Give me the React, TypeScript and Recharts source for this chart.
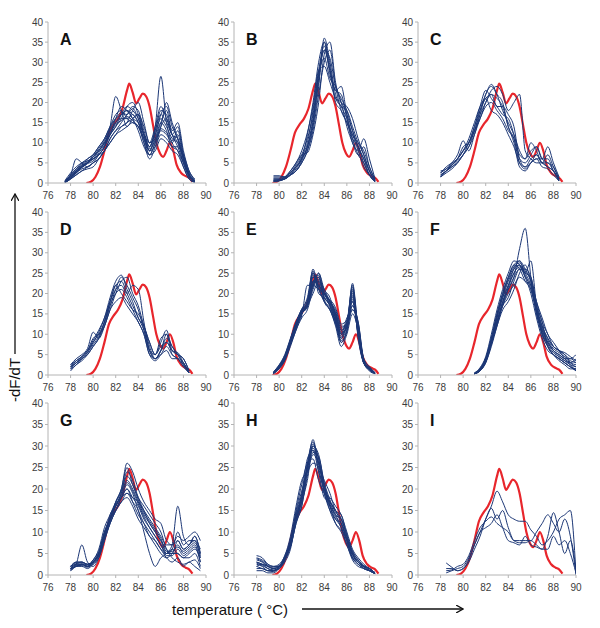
import { Line, LineChart, XAxis, YAxis } from "recharts"

const _ = null

// temperature grid for the blue curves (°C)
const TEMPS = [77, 77.5, 78, 78.5, 79, 79.5, 80, 80.5, 81, 81.5, 82, 82.5, 83, 83.5, 84, 84.5, 85, 85.5, 86, 86.5, 87, 87.5, 88, 88.5, 89, 89.5, 90]
const X_TICKS = [76, 78, 80, 82, 84, 86, 88, 90]
const Y_TICKS = [0, 5, 10, 15, 20, 25, 30, 35, 40]
const PANEL_LABELS = ["A", "B", "C", "D", "E", "F", "G", "H", "I"]

// reference melt curve (red), same in every panel
const RED_T = [79.4, 79.8, 80.2, 80.6, 81.0, 81.4, 81.8, 82.2, 82.6, 83.0, 83.2, 83.5, 83.8, 84.1, 84.4, 84.7, 85.0, 85.3, 85.6, 85.9, 86.2, 86.5, 86.8, 87.1, 87.4, 87.8, 88.2, 88.5, 88.8]
const RED_V = [0, 0.3, 1.5, 4, 8, 12.5, 14.5, 16, 18.5, 23, 24.7, 22.5, 19.8, 21, 22.2, 21.5, 19, 14.5, 10, 7.5, 6.5, 8, 10, 8, 4.5, 2.5, 1.7, 1.3, 0.3]

const A_CURVES = [
  [_, 0.3, 1.5, 3, 4, 5, 6, 8, 10, 13, 15, 16, 16, 17, 15, 11, 8, 12, 16, 14, 11, 10, 6, 2, 0.5, _, _],
  [_, 0.5, 2, 6, 5, 4, 5, 7, 9, 14, 21.5, 18, 14, 16, 17, 12, 9, 13, 18, 17, 12, 9, 5, 1.5, 0.3, _, _],
  [_, 0.2, 1, 2, 3, 4, 5, 6, 8, 11, 13, 15, 17, 19, 18, 13, 9, 14, 26.5, 15, 10, 8, 4, 1, 0.2, _, _],
  [_, 0.4, 2, 3.5, 4.5, 6, 7, 9, 11, 14, 16, 17, 18, 16, 13, 9, 7, 10, 14, 16, 12, 14, 7, 2, 0.5, _, _],
  [_, 0.1, 1, 2.5, 3.5, 4, 5, 6, 8, 10, 12, 14, 15, 16, 17, 14, 10, 11, 15, 18, 13, 15, 8, 3, 0.8, _, _],
  [_, 0.3, 1.5, 2.5, 4, 5.5, 6, 7, 9, 12, 14, 17, 19, 18, 16, 12, 8, 9, 12, 11, 9, 8, 5, 2, 0.4, _, _],
  [_, 0.2, 1.2, 3, 4, 5, 7, 9, 11, 14, 17, 18, 16, 15, 14, 10, 7, 10, 13, 12, 10, 12, 6, 2, 0.3, _, _],
  [_, 0.6, 2.5, 4, 5, 5.5, 6, 7, 8, 11, 13, 14, 15, 18, 20, 15, 10, 12, 17, 19, 14, 11, 6, 2, 0.5, _, _],
  [_, 0.3, 1.8, 3, 4.5, 5, 6.5, 8, 10, 12, 14, 16, 19, 20, 17, 12, 8, 11, 15, 13, 9, 9, 7, 3, 1, _, _],
  [_, 0.2, 1, 2, 3, 3.5, 4, 6, 8, 10, 12, 13, 14, 15, 14, 11, 7, 8, 11, 10, 8, 7, 4, 1, 0.2, _, _],
  [_, 0.4, 2, 3.5, 5, 6, 7, 8, 10, 12, 15, 17, 18, 17, 15, 10, 6, 9, 14, 20, 15, 11, 6, 2, 0.4, _, _],
  [_, 0.1, 1, 2.5, 4, 5, 6, 7, 9, 12, 16, 19, 18, 16, 15, 12, 10, 14, 19, 16, 12, 10, 5, 1.5, 0.3, _, _],
  [_, 0.3, 1.7, 3.2, 4.2, 5.2, 6.5, 8.5, 10.5, 13.5, 16, 17.5, 17, 18.5, 16, 12, 9, 13, 17, 15, 12, 11, 6.5, 2.2, 0.5, _, _],
  [_, 0.2, 1.3, 2.8, 3.8, 4.8, 5.5, 7.5, 9.5, 12.5, 14.5, 15.5, 16.5, 15.5, 14, 11, 8.5, 10.5, 13.5, 12.5, 10.5, 13, 7, 2.5, 0.6, _, _],
]

const B_CURVES = [
  [_, _, _, _, _, 0.8, 0.8, 1.2, 2.5, 4, 6.5, 10, 18, 28, 34, 28, 21, 20, 17, 13, 9, 6, 3, 0.5, _, _, _],
  [_, _, _, _, _, 1.8, 1.8, 1.5, 2, 3, 5, 8, 14, 24, 36, 30, 22, 19, 16, 12, 10, 8, 4, 1, _, _, _],
  [_, _, _, _, _, 0.5, 0.6, 1, 2, 3.5, 6, 9, 15, 26, 33, 31, 24, 21, 18, 13, 9, 6, 2, 0.3, _, _, _],
  [_, _, _, _, _, 1.5, 1.5, 1.5, 3, 5, 7, 7.5, 12, 20, 32, 35, 25, 20, 19, 16, 11, 7, 3, 0.5, _, _, _],
  [_, _, _, _, _, 0.3, 0.5, 1, 2, 4, 6, 12, 20, 30, 35, 27, 23, 22, 16, 10, 8, 11, 6, 1, _, _, _],
  [_, _, _, _, _, 1, 1, 1.3, 2.5, 4.5, 7, 11, 17, 27, 31, 26, 24, 20, 14, 10, 7, 9, 4, 0.8, _, _, _],
  [_, _, _, _, _, 0.6, 0.7, 1, 2, 3, 5, 8, 13, 22, 30, 33, 24, 18, 15, 11, 9, 5, 2, 0.3, _, _, _],
  [_, _, _, _, _, 0.4, 0.6, 1.5, 3, 5, 8, 12.5, 19, 28, 29, 25, 21, 19, 18, 14, 10, 7, 3, 0.5, _, _, _],
  [_, _, _, _, _, 1.2, 1.2, 1.5, 2.5, 4, 6, 9, 16, 25, 35, 29, 20, 18, 15, 12, 8, 4, 2, 0.5, _, _, _],
  [_, _, _, _, _, 0.7, 0.8, 1, 2, 3, 5.5, 9, 15, 27, 33, 28, 23, 24, 17, 11, 7, 5, 2, 0.3, _, _, _],
]

const C_CURVES = [
  [_, _, 2, 3, 4, 5.5, 7, 10, 13, 18, 22, 24.5, 22, 18, 15, 12, 8, 6, 8, 9, 6, 5, 4, 1, _, _, _],
  [_, _, 1.5, 3, 4.5, 6, 8, 10, 14, 18, 21, 22, 19, 19, 17, 14, 6, 4, 5, 7, 5, 7, 4, 1, _, _, _],
  [_, _, 3, 3.5, 5, 7, 10.5, 8, 12, 17, 22, 24, 22, 20, 14, 11, 5, 3.5, 5, 6, 4, 3.5, 2, 0.5, _, _, _],
  [_, _, 2.5, 4, 5, 6, 8, 10, 14, 19, 23, 21, 19, 17, 16, 12, 7, 6, 10, 8, 5, 5, 3, 0.8, _, _, _],
  [_, _, 1.5, 2.5, 3.5, 5, 7, 9, 13, 17, 20, 23, 24, 22, 18, 20, 22, 8, 6, 5, 5, 4, 3, 1, _, _, _],
  [_, _, 2, 3, 4, 5, 7, 9, 12, 16, 19, 20, 18, 16, 13, 11, 6, 5, 7, 9, 6, 9, 5, 1.5, _, _, _],
  [_, _, 1.5, 3, 4.5, 6, 8, 11, 15, 19, 21, 18, 17, 15, 12, 9, 5, 4, 6, 7, 5, 4, 3, 0.5, _, _, _],
  [_, _, 2.5, 3.5, 4.5, 6, 9, 10, 13, 16, 20, 22, 21, 19, 14, 10, 4, 3, 5, 6, 6, 6, 3, 0.5, _, _, _],
]

const D_CURVES = [
  [_, _, 2, 3.5, 4.5, 6, 8, 10.5, 14, 19, 23, 24.5, 21, 18, 14, 12, 8, 5, 7, 8, 6, 5, 4, 1, _, _, _],
  [_, _, 1.5, 3, 4, 5.5, 8, 10, 13, 18, 21, 22, 20, 22, 21, 13, 6, 4, 6, 10, 7, 5, 3, 0.5, _, _, _],
  [_, _, 2.5, 4, 5, 6.5, 10.5, 9, 12, 17, 20, 21, 19, 16, 13, 10, 5, 3.5, 5, 7, 5, 4, 2.5, 0.5, _, _, _],
  [_, _, 1, 2.5, 3.5, 5, 7, 9, 12, 16, 20, 23, 24, 20, 17, 12, 8, 5, 8, 11, 6, 5, 4, 1, _, _, _],
  [_, _, 2, 3, 4.5, 6, 8.5, 11, 14, 18, 22, 20, 18, 16, 15, 12, 7, 4, 5, 6, 4, 4, 3, 0.5, _, _, _],
  [_, _, 2.5, 3.5, 4.5, 6, 9, 10, 12, 16, 18, 19, 17, 15, 13, 10, 5, 4, 6, 8, 6, 5.5, 3, 1, _, _, _],
  [_, _, 1.5, 2.5, 4, 5, 7, 9, 13, 17, 21, 24, 22, 19, 16, 11, 6, 5, 9, 10, 5, 4, 2, 0.5, _, _, _],
  [_, _, 2, 3, 4, 5.5, 7.5, 9.5, 13, 18, 22, 23, 20, 17, 14, 11, 6, 4, 6, 9, 7, 5, 2.5, 0.5, _, _, _],
]

const E_CURVES = [
  [_, _, _, _, _, 0.5, 2, 4, 8, 12, 15, 17, 23, 22, 19, 17, 14, 10, 12, 18, 10, 3, 1.5, 0.5, _, _, _],
  [_, _, _, _, _, 0.8, 2.5, 5, 9, 13, 16, 18, 25, 21, 20, 18, 15, 11, 13, 20, 11, 4, 2, 0.5, _, _, _],
  [_, _, _, _, _, 0.3, 1.5, 3.5, 7, 11, 14, 16, 21, 24, 18, 16, 13, 8, 11, 17, 12, 3, 1, 0.3, _, _, _],
  [_, _, _, _, _, 0.6, 2, 4.5, 8.5, 13, 16, 19, 25.5, 20, 19, 17, 13, 9, 12, 22, 9, 3, 1.5, 0.5, _, _, _],
  [_, _, _, _, _, 0.5, 2, 4, 7.5, 11, 15, 17, 20, 23, 21, 18, 15, 10, 14, 16, 13, 4, 2, 0.5, _, _, _],
  [_, _, _, _, _, 0.4, 1.8, 4, 8, 12, 15, 18, 24, 22, 20, 18, 16, 12, 12, 21, 10, 3, 1.2, 0.3, _, _, _],
  [_, _, _, _, _, 0.7, 2.2, 4.5, 8, 12.5, 16, 17, 22, 25, 21, 19, 14, 9, 13, 19, 12, 3.5, 1.5, 0.5, _, _, _],
  [_, _, _, _, _, 0.5, 1.8, 3.8, 7.5, 11.5, 15, 17.5, 26, 21, 18, 16, 12, 7, 10, 15, 11, 3, 1.5, 0.4, _, _, _],
  [_, _, _, _, _, 0.6, 2, 4.2, 8.2, 12, 15.5, 17, 23, 24, 19, 17.5, 14, 10, 12, 18, 10, 3, 1.8, 0.6, _, _, _],
  [_, _, _, _, _, 0.4, 1.6, 3.8, 7.8, 12, 14.5, 22, 22, 21, 20, 17, 13, 8, 11, 22.5, 11, 3, 1.4, 0.4, _, _, _],
  [_, _, _, _, _, 0.5, 2, 4.5, 8.5, 12.5, 15.5, 17, 24, 23, 20, 18, 15, 11, 12, 17, 13, 3.5, 1.5, 0.5, _, _, _],
  [_, _, _, _, _, 0.5, 2.2, 4.5, 8, 12, 16, 17.5, 22.5, 24.5, 18.5, 16.5, 13.5, 9.5, 12.5, 20.5, 10.5, 3, 1.6, 0.5, _, _, _],
  [_, _, _, _, _, 0.6, 2.1, 4.3, 8.3, 12.3, 15.8, 17.2, 21.5, 25, 20, 17.5, 14.5, 10.5, 11.5, 16, 12.5, 3.5, 1.7, 0.5, _, _, _],
  [_, _, _, _, _, 0.4, 1.7, 3.7, 7.7, 11.7, 15.2, 16.5, 24.5, 22.5, 19.5, 18.5, 16.5, 12.5, 13.5, 21.5, 11.5, 3.2, 1.3, 0.4, _, _, _],
  [_, _, _, _, _, 0.7, 2.4, 4.8, 8.8, 12.8, 16.2, 18.5, 25, 21.5, 18, 16, 12.5, 8.5, 10.5, 19.5, 9.5, 2.8, 1.5, 0.5, _, _, _],
  [_, _, _, _, _, 0.5, 1.9, 4.1, 7.9, 11.9, 15.3, 16.8, 22, 23.5, 20.5, 18.2, 15.5, 11.5, 13, 18.5, 12, 3.3, 1.6, 0.5, _, _, _],
]

const F_CURVES = [
  [_, _, _, _, _, _, _, _, 0.3, 1.2, 3.5, 8, 13, 18, 22, 25, 27, 25, 22, 16, 11, 8, 6, 5, 4, 3, 2.5],
  [_, _, _, _, _, _, _, _, 0.4, 1.5, 4, 9, 15, 20, 24, 27, 28, 26, 23, 17, 12, 9, 7, 6, 5, 4, 5],
  [_, _, _, _, _, _, _, _, 0.3, 1, 3, 7, 12, 17, 21, 24, 31, 36, 24, 15, 10, 7, 5, 4, 3, 2, 1.5],
  [_, _, _, _, _, _, _, _, 0.5, 1.8, 4.5, 10, 16, 21, 25, 28, 27, 24, 20, 14, 9, 6, 5, 4, 3, 2, 1],
  [_, _, _, _, _, _, _, _, 0.3, 1.2, 3.5, 8, 13, 17, 19, 23, 26, 26, 24, 18, 13, 10, 7, 6, 5, 3, 2],
  [_, _, _, _, _, _, _, _, 0.4, 1.4, 4, 8.5, 14, 19, 23, 26, 28, 25, 28, 17, 10, 8, 6, 4.5, 3.5, 3, 4],
  [_, _, _, _, _, _, _, _, 0.3, 1.1, 3, 7.5, 12, 16, 18, 21, 25, 27, 23, 18, 14, 10, 8, 6, 4, 2.5, 1],
  [_, _, _, _, _, _, _, _, 0.5, 1.6, 4.2, 9, 15, 20, 24, 27, 26, 23, 21, 16, 10, 7, 5, 3.5, 2.5, 1.5, 1.5],
  [_, _, _, _, _, _, _, _, 0.3, 1, 3.2, 7.8, 13, 17, 20, 22, 24, 23, 22, 15, 11, 8, 6, 5, 4, 4, 3],
  [_, _, _, _, _, _, _, _, 0.4, 1.3, 3.8, 8.8, 14, 19, 22, 26, 27, 24, 22, 16, 12, 9, 7, 6, 5.5, 4.5, 3.5],
  [_, _, _, _, _, _, _, _, 0.3, 1.2, 3.6, 8.2, 13, 18, 21, 24, 26, 25, 24, 17, 13, 7, 5, 4, 3, 2, 1.2],
  [_, _, _, _, _, _, _, _, 0.4, 1.4, 3.9, 8.6, 14.5, 19.5, 23.5, 26.5, 27.5, 25.5, 23, 16.5, 11.5, 8.5, 6.5, 5.5, 4.5, 3.5, 3],
  [_, _, _, _, _, _, _, _, 0.3, 1.1, 3.3, 7.6, 12.5, 17.5, 21.5, 25, 26.5, 24.5, 21, 15.5, 10.5, 7.5, 5.5, 4.5, 3.5, 2.5, 2],
]

const G_CURVES = [
  [_, _, 1.5, 2, 2.5, 2, 3, 5, 9, 13, 16, 19, 22, 20, 17, 14, 12, 10, 8, 5, 6, 5, 4, 5, 6, 4, _],
  [_, _, 1, 2.5, 7, 3, 2, 4, 8, 12, 15, 18, 20, 18, 16, 13, 11, 9, 7, 5, 5, 8, 6, 7, 8, 6, _],
  [_, _, 2, 3, 3, 2.5, 3, 5, 10, 13, 17, 20, 25, 21, 18, 16, 14, 12, 10, 6, 4, 3, 2.5, 3, 3.5, 1.5, _],
  [_, _, 1.5, 2, 2.5, 2, 2.5, 4.5, 9, 14, 16, 18, 19, 17, 15, 10, 5, 2, 4, 5, 7, 16, 9, 7, 9, 5, _],
  [_, _, 1.5, 2.5, 2.5, 2, 3.5, 5.5, 10, 13, 15, 17, 18, 16, 13, 11, 9, 7, 5, 4, 5, 7, 5, 6, 7, 3, _],
  [_, _, 2, 3, 3, 2.5, 3, 5, 9, 12.5, 16, 19, 24, 22, 18, 15, 12, 10, 8, 6, 5, 5, 4, 4, 5, 2, _],
  [_, _, 1, 2, 2, 1.5, 2.5, 4, 8, 12, 15, 18, 21, 19, 15, 12, 9, 8, 6, 4, 3, 4, 2, 3, 2, 1, _],
  [_, _, 1.5, 2.5, 3, 2.5, 3.5, 6, 11, 14, 17, 20, 26, 24, 20, 17, 15, 13, 12, 8, 7, 9, 8, 9, 10, 8, _],
  [_, _, 2, 2.5, 2.5, 2, 3, 5, 9.5, 13, 16.5, 18, 20, 17, 14, 12, 10, 8, 6, 5, 6, 10, 7, 8, 8, 4, _],
  [_, _, 1.5, 2, 2.5, 2, 3, 4.5, 8.5, 12, 15, 17, 19, 18, 17, 15, 13, 11, 9, 7, 7, 8, 6, 7, 9, 5, _],
  [_, _, 1.8, 2.8, 2.8, 2.3, 3.2, 5.2, 9.8, 13.5, 16.8, 19.5, 23, 21, 17.5, 14.5, 12.5, 10.5, 8.5, 5.5, 5.5, 6.5, 5.5, 6.5, 7.5, 4.5, _],
  [_, _, 1.2, 2.2, 2.2, 1.8, 2.8, 4.8, 9.2, 13, 16, 18.5, 21.5, 19.5, 16.5, 13.5, 11, 9, 7, 4.5, 4.5, 6, 4.5, 5.5, 6.5, 3, _],
]

const H_CURVES = [
  [_, _, 4.5, 4, 2.5, 2, 2, 4, 7, 13, 18, 25, 30, 27, 21, 17, 14, 13, 9, 5, 3, 2, 1.5, 0.5, _, _, _],
  [_, _, 3, 2.5, 1.5, 1, 1.5, 3.5, 6.5, 12, 16, 23, 28, 26, 20, 16, 13, 12, 8, 4, 3, 2, 1, 0.3, _, _, _],
  [_, _, 1, 1, 0.5, 0.5, 1.5, 3, 6, 12.5, 17, 25, 31.5, 25, 19, 15, 13, 11, 7, 4, 2.5, 1.5, 1, 0.3, _, _, _],
  [_, _, 2, 2.5, 2, 1.5, 2, 4, 8, 14, 19, 27, 29, 24, 20, 17, 15, 12, 8, 5, 3, 2, 1.5, 0.5, _, _, _],
  [_, _, 3.5, 3, 2, 1.5, 2, 4.5, 8, 15, 21, 26, 27, 22, 19, 18, 16, 14, 10, 6, 4, 2.5, 1.5, 0.5, _, _, _],
  [_, _, 2.5, 2, 1, 1, 1.5, 3.5, 7, 13, 17, 22, 30, 28, 21, 16, 12, 10, 7, 3.5, 2, 1.5, 1, 0.3, _, _, _],
  [_, _, 4, 3.5, 2.5, 2, 2.5, 4.5, 9, 16, 22, 24, 26, 25, 22, 19, 15, 14, 9, 5, 3, 2, 1.5, 0.5, _, _, _],
  [_, _, 1.5, 1.5, 1, 1, 1.8, 3.5, 6.5, 12, 16, 24, 30.5, 27, 19, 16, 14, 11, 8, 4.5, 3, 1.5, 1, 0.3, _, _, _],
  [_, _, 3, 2.5, 2, 1.5, 2, 4, 7.5, 13.5, 18, 25, 29, 26, 20, 15, 12, 10.5, 8.5, 5.5, 3.5, 2, 1.5, 0.5, _, _, _],
  [_, _, 2, 1.5, 1, 0.8, 1.8, 3.8, 7.2, 12.5, 17.5, 26, 31, 24, 18, 17, 15, 13, 8, 4, 2.5, 1.5, 1, 0.3, _, _, _],
  [_, _, 2.8, 2.2, 1.5, 1.2, 1.8, 3.8, 7.5, 13.5, 18.5, 25.5, 29.5, 26, 20.5, 16.5, 13.5, 12, 8.5, 4.8, 3, 1.8, 1.2, 0.4, _, _, _],
  [_, _, 3.8, 3.2, 2.2, 1.8, 2.2, 4.2, 8.2, 14.5, 19.5, 24, 28.5, 27.5, 21.5, 17.5, 14.5, 13, 9.5, 5.5, 3.5, 2.2, 1.5, 0.5, _, _, _],
]

const I_CURVES = [
  [_, _, _, 2.8, 1.8, 1, 1.5, 3, 6, 9, 13, 15.5, 13, 15, 11, 8, 7.5, 7.5, 8, 7, 6, 9, 14.5, 10, 5, 8, 1],
  [_, _, _, 0.5, 1, 1.5, 2, 4, 7, 10, 13, 16, 19.5, 17, 14, 13, 12.5, 12.5, 10.5, 9, 7, 8, 10, 13, 14, 15, 0.3],
  [_, _, _, 1.5, 1.5, 1, 1.5, 3.5, 7, 10, 11, 12, 14, 11, 8, 7.5, 7, 9, 7, 6.5, 6, 6, 9, 7, 8, 5, 0.5],
  [_, _, _, 1, 1.2, 2, 2.5, 4.5, 8, 11, 12.5, 13.5, 12, 11, 10, 8, 8, 8, 8, 10, 12, 14, 12, 10, 13, 9, 0],
]

const PANEL_CURVES = [A_CURVES, B_CURVES, C_CURVES, D_CURVES, E_CURVES, F_CURVES, G_CURVES, H_CURVES, I_CURVES]

const COL_X = [48, 234, 418]
const ROW_Y = [22, 212, 403]
const ROW_H = [161, 163, 172]
const PLOT_W = 158

const BLUE = "#1c3776"
const RED = "#e8262c"
const AXIS = "#b4b4b4"
const TICK_TEXT = { fill: "#3c3c3c", fontSize: 10, fontFamily: "Liberation Sans, Arial, sans-serif" }

function Panel({ curves, label, x0, y0, plotH }: { curves: (number | null)[][]; label: string; x0: number; y0: number; plotH: number }) {
  const red = RED_T.map((t, i) => ({ t, v: RED_V[i] }))
  const series = curves.map((vals) =>
    vals
      .map((v, i) => ({ t: TEMPS[i], v }))
      .filter((p) => p.v !== null && p.t !== undefined)
  )

  return (
    <div style={{ position: "absolute", left: x0 - 30, top: y0 - 8 }}>
      <LineChart width={30 + PLOT_W + 10} height={plotH + 32} margin={{ top: 8, right: 10, left: 0, bottom: 0 }}>
        <XAxis
          type="number"
          dataKey="t"
          domain={[76, 90]}
          ticks={X_TICKS}
          allowDataOverflow
          height={24}
          tick={TICK_TEXT}
          tickSize={3}
          tickMargin={6}
          stroke={AXIS}
          tickLine={{ stroke: AXIS }}
          axisLine={{ stroke: AXIS }}
        />
        <YAxis
          type="number"
          domain={[0, 40]}
          ticks={Y_TICKS}
          allowDataOverflow
          width={30}
          tick={TICK_TEXT}
          tickSize={3}
          tickMargin={2}
          stroke={AXIS}
          tickLine={{ stroke: AXIS }}
          axisLine={{ stroke: AXIS }}
        />
        <Line
          data={red}
          dataKey="v"
          type="monotone"
          stroke={RED}
          strokeWidth={2.2}
          dot={false}
          isAnimationActive={false}
        />
        {series.map((d, i) => (
          <Line
            key={i}
            data={d}
            dataKey="v"
            type="monotone"
            stroke={BLUE}
            strokeWidth={1}
            dot={false}
            isAnimationActive={false}
          />
        ))}
      </LineChart>
      <div
        style={{
          position: "absolute",
          left: 42,
          top: 18,
          fontFamily: "Liberation Sans, Arial, sans-serif",
          fontWeight: "bold",
          fontSize: 16,
          lineHeight: "16px",
          color: "#111",
        }}
      >
        {label}
      </div>
    </div>
  )
}

export default function App() {
  return (
    <div style={{ position: "absolute", left: 0, top: 0, width: 600, height: 628, background: "#fff" }}>
      {PANEL_CURVES.map((curves, i) => (
        <Panel
          key={i}
          curves={curves}
          label={PANEL_LABELS[i]}
          x0={COL_X[i % 3]}
          y0={ROW_Y[Math.floor(i / 3)]}
          plotH={ROW_H[Math.floor(i / 3)]}
        />
      ))}
      <svg width={600} height={628} style={{ position: "absolute", left: 0, top: 0, pointerEvents: "none" }}>
        <defs>
          <marker id="head" markerWidth="8" markerHeight="8" refX="7" refY="4" orient="auto" markerUnits="userSpaceOnUse">
            <path d="M0,0 L7,4 L0,8" fill="none" stroke="#111" strokeWidth="1.3" />
          </marker>
        </defs>
        <line x1={15} y1={354} x2={15} y2={194} stroke="#111" strokeWidth={1.3} markerEnd="url(#head)" />
        <text
          x={0}
          y={0}
          transform="translate(20,380) rotate(-90)"
          textAnchor="middle"
          fontFamily="Liberation Sans, Arial, sans-serif"
          fontSize={15}
          fill="#111"
        >
          -dF/dT
        </text>
        <text x={172} y={615} fontFamily="Liberation Sans, Arial, sans-serif" fontSize={15} fill="#111">
          temperature ( °C)
        </text>
        <line x1={302} y1={609} x2={463} y2={609} stroke="#111" strokeWidth={1.3} markerEnd="url(#head)" />
      </svg>
    </div>
  )
}
